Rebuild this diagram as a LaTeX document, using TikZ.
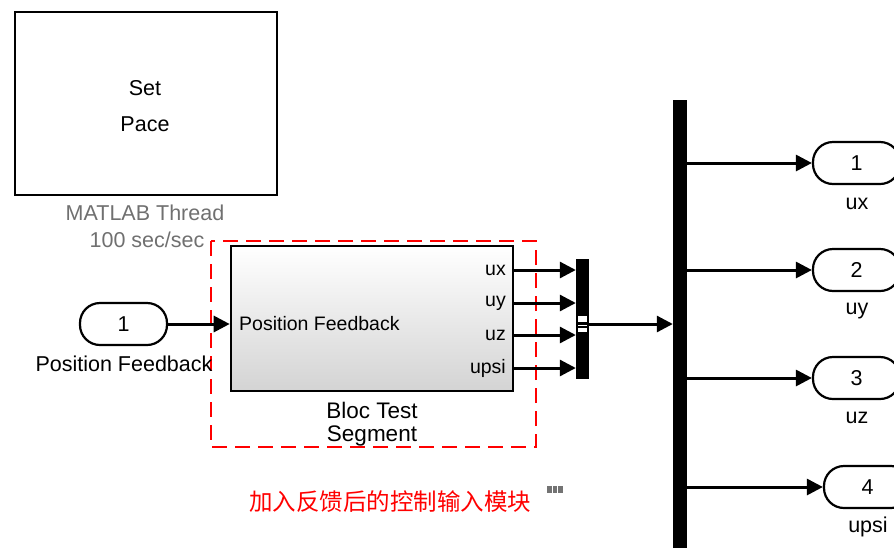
\documentclass[tikz,border=0pt]{standalone}
\usepackage{fontspec}
\setmainfont{Liberation Sans}
\newfontfamily\cjk{Noto Sans CJK SC}
\usetikzlibrary{arrows.meta}
\begin{document}
\begin{tikzpicture}[x=1pt,y=-1pt,
  sig/.style={line width=3pt,-{Triangle[length=16pt,width=16pt]}},
  txt/.style={font=\fontsize{21.5}{25}\selectfont, inner sep=0pt},
  itxt/.style={font=\fontsize{19.5}{23}\selectfont, inner sep=0pt},
  port/.style={draw, line width=2.2pt, rounded corners=20pt, minimum width=87pt, minimum height=42pt, inner sep=0pt, font=\fontsize{21.5}{25}\selectfont},
  bar/.style={fill=black, draw=none, inner sep=0pt}]
\useasboundingbox (0,0) rectangle (894,547);

% Set Pace block
\node[draw, line width=2.6pt, minimum width=262pt, minimum height=183pt, inner sep=0pt] (pace) at (146,103.5) {};
\node[txt] (set) at (145,88) {Set};
\node[txt] (pc) at (145,124) {Pace};
\node[txt, text=black!56] (thr1) at (145,213) {MATLAB Thread};
\node[txt, text=black!56] (thr2) at (147,240) {100 sec/sec};

% red dashed frame
\draw[red, line width=2.4pt, dash pattern=on 15pt off 8pt] (211,241) rectangle (536,447);

% main block
\node[draw, line width=2.6pt, minimum width=282pt, minimum height=145pt, inner sep=0pt,
      top color=white, bottom color=black!17] (blk) at (372,318.5) {};
\node[itxt, anchor=west] (pf) at (239,324) {Position Feedback};
\node[itxt, anchor=east] (lx) at (506,270) {ux};
\node[itxt, anchor=east] (ly) at (506,303) {uy};
\node[itxt, anchor=east] (lz) at (506,335) {uz};
\node[itxt, anchor=east] (lp) at (506,368) {upsi};
\node[font=\fontsize{22.5}{26}\selectfont, inner sep=0pt] (bt1) at (372,410) {Bloc Test};
\node[font=\fontsize{22.5}{26}\selectfont, inner sep=0pt] (bt2) at (372,436) {Segment};

% inport
\node[port] (in1) at (123.5,324) {1};
\node[txt] (inl) at (124,364) {Position Feedback};
\draw[sig] (in1.east) -- (in1.east -| blk.west);

% mux
\node[bar, minimum width=13pt, minimum height=120pt] (mux) at (582.5,319) {};
\fill[white] (578,316) rectangle (587,321.5);
\fill[white] (578,324.5) rectangle (587,325.5);
\fill[white] (578,327.5) rectangle (587,332);
\coordinate (o1) at (513,270);
\coordinate (o2) at (513,303);
\coordinate (o3) at (513,335);
\coordinate (o4) at (513,368);
\foreach \p in {o1,o2,o3,o4} \draw[sig] (\p) -- (\p -| mux.west);

% demux
\node[bar, minimum width=14pt, minimum height=460pt] (dmx) at (680,330) {};
\coordinate (mo) at (589,324);
\draw[sig] (mo) -- (mo -| dmx.west);

% outports
\node[port] (out1) at (856.5,163) {1};
\node[port] (out2) at (856.5,270) {2};
\node[port] (out3) at (856.5,378) {3};
\node[port] (out4) at (867.5,487) {4};
\node[txt] (ol1) at (857,204) {ux};
\node[txt] (ol2) at (857,311) {uy};
\node[txt] (ol3) at (857,418) {uz};
\node[txt] (ol4) at (868,527) {upsi};
\foreach \i in {1,2,3,4} \draw[sig] (dmx.east |- out\i.west) -- (out\i.west);

% Chinese caption
\node[inner sep=0pt, text=red, font=\cjk\fontsize{23.5}{27}\selectfont] (cap) at (390,502) {加入反馈后的控制输入模块};
\fill[black!55] (547,486) rectangle (563,493);
\draw[white, line width=0.6pt] (552,486) -- (552,493) (557,486) -- (557,493);
\end{tikzpicture}
\end{document}
